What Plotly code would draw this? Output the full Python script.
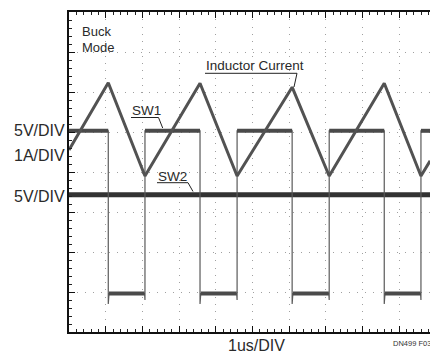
import plotly.graph_objects as go

# ---- data (time in µs = horizontal divisions, levels in vertical divisions) ----
sw1_time_us = [0, 1.07, 1.07, 1.09, 2.06, 2.07, 2.07, 3.57, 3.57, 3.59, 4.57, 4.58, 4.58,
               6.08, 6.08, 6.10, 7.08, 7.09, 7.09, 8.59, 8.59, 8.61, 9.58, 9.59, 9.59, 9.84]
sw1_level_div = [5.03, 5.03, 0.70, 0.96, 0.96, 0.80, 5.03, 5.03, 0.70, 0.96, 0.96, 0.80, 5.03,
                 5.03, 0.70, 0.96, 0.96, 0.80, 5.03, 5.03, 0.70, 0.96, 0.96, 0.80, 5.03, 5.03]

ind_time_us = [0, 1.07, 2.07, 3.57, 4.58, 6.08, 7.09, 8.59, 9.59, 9.84]
ind_level_div = [4.55, 6.23, 3.90, 6.22, 3.90, 6.12, 3.90, 6.22, 3.90, 4.28]

sw2_time_us = [0, 9.84]
sw2_level_div = [3.43, 3.43]

# ---- derived: flat plateau segments of SW1 (drawn thicker, like the scope band) ----
plat_t, plat_v = [], []
for i in range(len(sw1_time_us) - 1):
    if sw1_level_div[i] == sw1_level_div[i + 1] and sw1_time_us[i + 1] > sw1_time_us[i]:
        plat_t += [sw1_time_us[i], sw1_time_us[i + 1], None]
        plat_v += [sw1_level_div[i], sw1_level_div[i + 1], None]

TRACE = "#525252"
fig = go.Figure()
fig.add_trace(go.Scatter(x=sw2_time_us, y=sw2_level_div, mode="lines",
                         line=dict(color="#333333", width=5), hoverinfo="skip"))
fig.add_trace(go.Scatter(x=sw1_time_us, y=sw1_level_div, mode="lines",
                         line=dict(color="#5a5a5a", width=1.2), hoverinfo="skip"))
fig.add_trace(go.Scatter(x=plat_t, y=plat_v, mode="lines",
                         line=dict(color="#4a4a4a", width=4), hoverinfo="skip"))
fig.add_trace(go.Scatter(x=ind_time_us, y=ind_level_div, mode="lines",
                         line=dict(color=TRACE, width=3), hoverinfo="skip"))

FONT = "Liberation Sans, Arial, sans-serif"
TXT = "#2a2a2a"
PW, PH = 361.0, 320.0  # plot area in px (left 69, top 12)

def pxx(p):
    return (p - 69) / PW

def pxy(p):
    return (332 - p) / PH

ann = []
def label(text, x, y, size, xanchor="left", yanchor="middle", color=TXT):
    ann.append(dict(text=text, x=pxx(x), y=pxy(y), xref="paper", yref="paper", showarrow=False,
                    xanchor=xanchor, yanchor=yanchor,
                    font=dict(family=FONT, size=size, color=color)))

label("Buck", 80, 31.5, 13)
label("Mode", 80, 47, 13)
label("Inductor Current", 204, 65.5, 13.5)
label("SW1", 130, 110, 13.5)
label("SW2", 156, 176.5, 13.5)
label("5V/DIV", 67, 130.5, 16, xanchor="right")
label("1A/DIV", 67, 155, 16, xanchor="right")
label("5V/DIV", 67, 196, 16, xanchor="right")
label("1us/DIV", 256.5, 345, 16, xanchor="center")
label("DN499 F03", 390.5, 343, 7.5, color="#333333")

shapes = []
def leader(points):
    path = "M " + " L ".join(f"{pxx(a)},{pxy(b)}" for a, b in points)
    shapes.append(dict(type="path", path=path, xref="paper", yref="paper",
                       line=dict(color="#222222", width=1)))

leader([(205, 73.3), (297, 73.3), (294, 87)])
leader([(131, 117.5), (158.5, 117.5), (162.7, 128)])
leader([(157, 182.7), (188, 182.7), (193, 191.5)])

fig.update_layout(
    width=430, height=354,
    margin=dict(l=69, r=0, t=12, b=22),
    paper_bgcolor="white", plot_bgcolor="white",
    showlegend=False,
    annotations=ann, shapes=shapes,
    xaxis=dict(range=[0, 361 / 36.7], showgrid=True, gridcolor="#a0a0a0", griddash="1px,6.3px",
               gridwidth=1, dtick=1, tick0=0, showticklabels=False, zeroline=False,
               showline=True, linecolor="#111111", linewidth=1.6, mirror="ticks",
               ticks="inside", ticklen=6, tickwidth=1, tickcolor="#111111",
               minor=dict(dtick=0.2, ticks="inside", ticklen=3, tickwidth=1, tickcolor="#222222", showgrid=False),
               fixedrange=True),
    yaxis=dict(range=[0, 8], showgrid=True, gridcolor="#a0a0a0", griddash="1px,7px",
               gridwidth=1, dtick=1, tick0=0, showticklabels=False, zeroline=False,
               showline=True, linecolor="#111111", linewidth=1.6, mirror=False,
               ticks="inside", ticklen=6, tickwidth=1, tickcolor="#111111",
               minor=dict(dtick=0.2, ticks="inside", ticklen=3, tickwidth=1, tickcolor="#222222", showgrid=False),
               fixedrange=True),
)

fig.write_html("out.html", config={"displayModeBar": False})
